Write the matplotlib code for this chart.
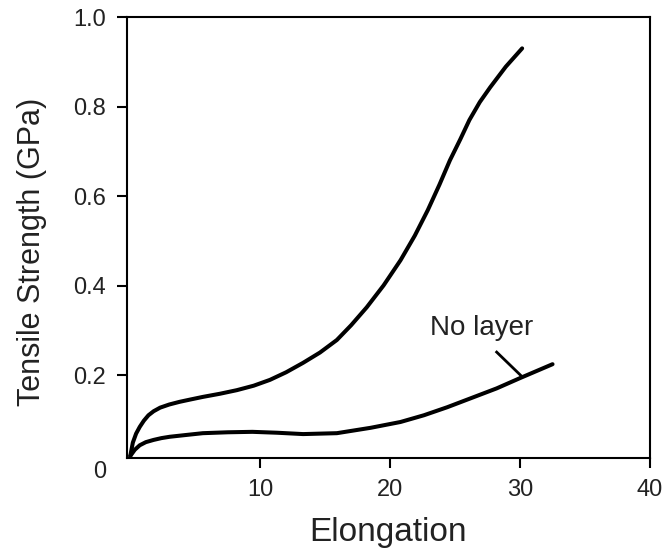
import matplotlib
matplotlib.use("Agg")
import matplotlib.pyplot as plt

plt.rcParams['font.family'] = ['Liberation Sans', 'DejaVu Sans']

# Upper curve (with layer)
layer_x = [0.0, 0.2, 0.45, 0.73, 1.05, 1.4, 1.8, 2.3, 3.0, 3.8, 4.6, 5.59, 6.9, 8.2,
           9.5, 10.75, 12.0, 13.3, 14.6, 15.9, 17.0, 18.2, 19.5, 20.8, 21.9, 22.9,
           23.8, 24.6, 25.4, 26.1, 26.9, 27.7, 28.9, 30.16]
layer_y = [0.02, 0.05, 0.07, 0.085, 0.099, 0.111, 0.12, 0.128, 0.135, 0.141, 0.146,
           0.152, 0.159, 0.167, 0.177, 0.19, 0.207, 0.228, 0.251, 0.279, 0.312,
           0.352, 0.401, 0.457, 0.512, 0.569, 0.626, 0.68, 0.727, 0.77, 0.81, 0.843,
           0.889, 0.93]

# Lower curve (no layer)
nolayer_x = [0.0, 0.35, 0.73, 1.2, 1.8, 2.4, 3.04, 4.3, 5.59, 7.5, 9.4, 11.3, 13.3,
             15.9, 18.5, 20.8, 22.6, 24.4, 26.3, 28.2, 30.0, 32.5]
nolayer_y = [0.02, 0.034, 0.044, 0.051, 0.056, 0.06, 0.063, 0.067, 0.071, 0.073,
             0.074, 0.072, 0.069, 0.071, 0.083, 0.096, 0.111, 0.129, 0.150, 0.171,
             0.194, 0.225]

x_ticks = [10, 20, 30, 40]
y_ticks = [0.2, 0.4, 0.6, 0.8, 1.0]
y_ticklabels = ['0.2', '0.4', '0.6', '0.8', '1.0']

label_text = "No layer"
label_pos = (27.08, 0.29)
leader_x = [28.2, 30.16]
leader_y = [0.252, 0.197]

fig = plt.figure(figsize=(6.72, 5.6), dpi=100)
ax = fig.add_axes([127 / 672, 1 - 458 / 560, (650 - 127) / 672, (458 - 17) / 560])

ax.plot(layer_x, layer_y, color='black', lw=2.9, solid_capstyle='round',
        solid_joinstyle='round')
ax.plot(nolayer_x, nolayer_y, color='black', lw=2.9, solid_capstyle='round',
        solid_joinstyle='round')
ax.plot(leader_x, leader_y, color='black', lw=2.0)
ax.text(label_pos[0], label_pos[1], label_text, ha='center', va='baseline',
        fontsize=20, color='#222222')

ax.set_xlim(-0.25, 40)
ax.set_ylim(0.0156, 1.0)
ax.set_xticks(x_ticks)
ax.set_xticklabels([str(v) for v in x_ticks])
ax.set_yticks(y_ticks)
ax.set_yticklabels(y_ticklabels)

# "0" label for y axis sits below the axis corner
ax.text(-0.04, -0.016, '0', transform=ax.get_yaxis_transform(), ha='right',
        va='center', fontsize=17, color='#222222', clip_on=False)

for s in ax.spines.values():
    s.set_linewidth(1.5)
ax.tick_params(direction='out', length=7, width=1.5, labelsize=17, pad=8,
               colors='black', labelcolor='#222222')

ax.set_xlabel('Elongation', fontsize=24, color='#222222', labelpad=12)
ax.set_ylabel('Tensile Strength (GPa)', fontsize=22, color='#222222')
ax.yaxis.set_label_coords(-0.153, 0.467)

fig.savefig('out.png', dpi=100)
